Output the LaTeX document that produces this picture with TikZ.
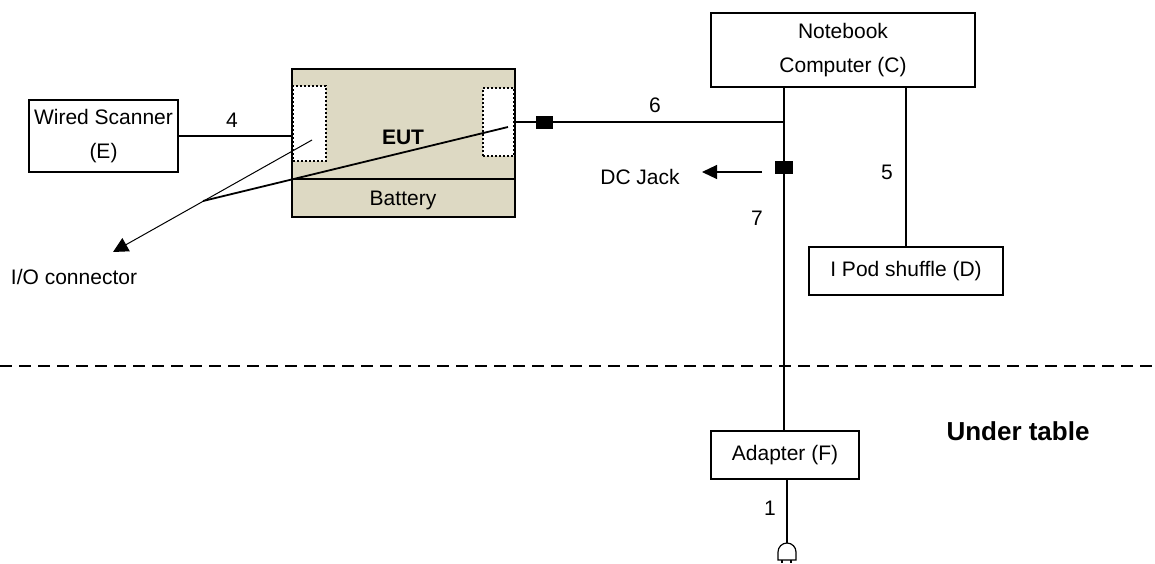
\documentclass[tikz,border=0pt]{standalone}
\usepackage{fontspec}
\setmainfont{Liberation Sans}
\usepackage{tikz}
\usetikzlibrary{arrows.meta,positioning}
\definecolor{euttan}{RGB}{221,217,195}

\begin{document}
\begin{tikzpicture}[x=1pt,y=-1pt,font=\fontsize{21}{34}\selectfont]%
                    \useasboundingbox (0,0) rectangle (1155,563);%%
                    \tikzstyle{unit}=[draw,line width=2.2pt,inner sep=0pt,align=center,fill=white];%%
                    \tikzstyle{port}=[draw,dotted,line width=2pt,fill=white,inner sep=0pt];%%
                    \tikzstyle{jack}=[fill=black,inner sep=0pt];%%
                    \tikzstyle{cable}=[line width=1.8pt];%%
                    \begin{scope}
                        \node[unit,minimum width=149pt,minimum height=72pt] (scanner) at (103.5,136) {Wired Scanner\\(E)}; %%
                        \node[unit,fill=euttan,minimum width=223pt,minimum height=148pt] (eut) at (403.5,143) {}; %%
                        \node[unit,minimum width=264pt,minimum height=74pt] (notebook) at (843,50) {Notebook\\Computer (C)}; %%
                        \node[unit,minimum width=194pt,minimum height=48pt] (ipod) at (906,271) {I Pod shuffle (D)}; %%
                        \node[unit,minimum width=148pt,minimum height=48pt] (adapter) at (785,455) {Adapter (F)}; %%
                    \end{scope}
                    \begin{scope}
                        \node[port,minimum width=33pt,minimum height=75pt] (ioL) at (309.5,123.5) {}; %%
                        \node[port,minimum width=31pt,minimum height=68pt] (ioR) at (498.5,122) {}; %%
                        \node[jack,minimum width=17pt,minimum height=13pt] (dcplug) at (544.5,122) {}; %%
                        \node[jack,minimum width=18pt,minimum height=13pt] (dcjack) at (784,167.5) {}; %%
                    \end{scope}
                        \draw[line width=1.6pt] (eut.west |- 0,179) -- (eut.east |- 0,179); %%
                        \node[font=\fontsize{21}{24}\selectfont\bfseries] (eutlbl) at (403,137.5) {EUT}; %%
                        \node (battery) at (403,200) {Battery}; %%
                        \coordinate (split6) at (dcjack |- dcplug); %%
                        \coordinate (ioa) at (312,140); %%
                        \coordinate (iob) at (508,127); %%
                        \coordinate (iosplit) at (203,201); %%
                        \coordinate (iotip) at (113,252); %%
                        \coordinate (jackarrow) at (762,172); %%
                        \coordinate (plug) at (787,543); %%
                        % cables
                        \draw[cable] (scanner.east) -- (scanner.east -| ioL.west); %%
                        \draw[cable] (ioR.east |- dcplug) -- (dcplug) -- (split6); %%
                        \draw[cable] (notebook.south -| dcjack) -- (dcjack) -- (adapter.north -| dcjack); %%
                        \draw[cable] (notebook.south -| ipod.north) -- (ipod.north); %%
                        \draw[cable] (adapter.south -| plug) -- (plug); %%
                        \draw[line width=1pt,-{Triangle[length=15pt,width=15pt]}] (ioa) -- (iotip); %%
                        \draw[line width=1.8pt] (iob) -- (iosplit); %%
                        \draw[line width=1.2pt,-{Triangle[length=15pt,width=14pt]}] (jackarrow) -- (702,172); %%
                        % plug
                        \draw[line width=1.2pt,fill=white] (778,560) -- (778,552) arc[start angle=180,end angle=360,radius=9] -- (796,560) -- cycle; %%
                        \draw[line width=1.2pt] (782,560) -- (782,563) (791,560) -- (791,563); %%
                        % labels
                        \node (l4) at (232,120) {4}; %%
                        \node (l6) at (655,105) {6}; %%
                        \node (l5) at (887,172) {5}; %%
                        \node (l7) at (757,218) {7}; %%
                        \node (l1) at (770,508) {1}; %%
                        \node (dclbl) at (640,177) {DC Jack}; %%
                        \node (iolbl) at (74,277) {I/O connector}; %%
                        \draw[line width=2.4pt,dash pattern=on 12pt off 7pt] (0,366) -- (1155,366); %%
                        \node[font=\fontsize{26}{30}\selectfont\bfseries] (under) at (1018,431) {Under table}; %%
                    \end{tikzpicture}
\end{document}
